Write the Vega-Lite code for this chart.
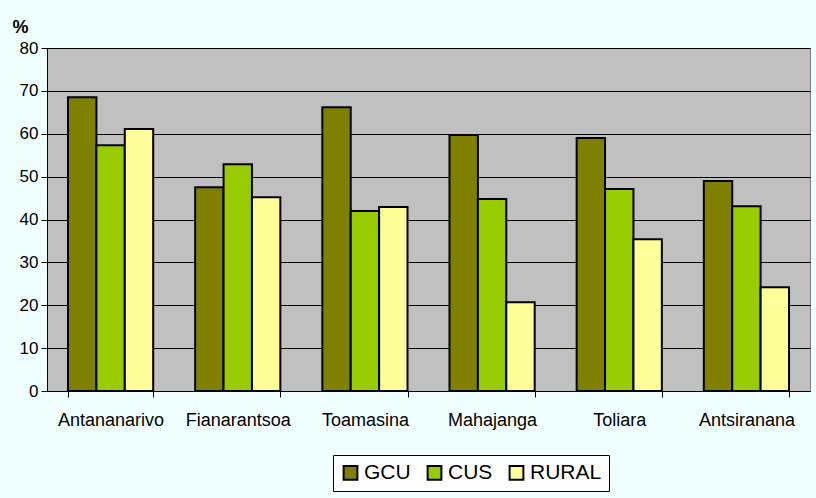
{
  "$schema": "https://vega.github.io/schema/vega-lite/v6.json",
  "width": 763,
  "height": 343,
  "autosize": {"type": "none"},
  "padding": {"left": 47, "top": 48, "right": 6, "bottom": 107},
  "background": "#f0ffff",
  "config": {
    "font": "Liberation Sans",
    "view": {"fill": "#C0C0C0", "stroke": "#808080", "strokeWidth": 1}
  },
  "data": {
    "values": [
      {"region": "Antananarivo", "group": "GCU", "value": 68.5},
      {"region": "Antananarivo", "group": "CUS", "value": 57.3},
      {"region": "Antananarivo", "group": "RURAL", "value": 61.1},
      {"region": "Fianarantsoa", "group": "GCU", "value": 47.5},
      {"region": "Fianarantsoa", "group": "CUS", "value": 52.9},
      {"region": "Fianarantsoa", "group": "RURAL", "value": 45.2},
      {"region": "Toamasina", "group": "GCU", "value": 66.2},
      {"region": "Toamasina", "group": "CUS", "value": 42.0},
      {"region": "Toamasina", "group": "RURAL", "value": 42.9},
      {"region": "Mahajanga", "group": "GCU", "value": 59.7},
      {"region": "Mahajanga", "group": "CUS", "value": 44.8},
      {"region": "Mahajanga", "group": "RURAL", "value": 20.7},
      {"region": "Toliara", "group": "GCU", "value": 59.0},
      {"region": "Toliara", "group": "CUS", "value": 47.1},
      {"region": "Toliara", "group": "RURAL", "value": 35.4},
      {"region": "Antsiranana", "group": "GCU", "value": 49.0},
      {"region": "Antsiranana", "group": "CUS", "value": 43.1},
      {"region": "Antsiranana", "group": "RURAL", "value": 24.2}
    ]
  },
  "mark": {"type": "bar", "stroke": "black", "strokeWidth": 2, "strokeJoin": "miter"},
  "encoding": {
    "x": {
      "field": "region",
      "type": "nominal",
      "sort": ["Antananarivo", "Fianarantsoa", "Toamasina", "Mahajanga", "Toliara", "Antsiranana"],
      "scale": {"paddingInner": 0.33, "paddingOuter": 0.165},
      "axis": {
        "title": null,
        "labelAngle": 0,
        "labelFontSize": 18,
        "labelColor": "black",
        "labelPadding": 14,
        "tickBand": "extent",
        "tickColor": "black",
        "tickSize": 6,
        "domainColor": "black",
        "domainWidth": 1,
        "grid": false
      }
    },
    "xOffset": {
      "field": "group",
      "type": "nominal",
      "sort": ["GCU", "CUS", "RURAL"],
      "scale": {"paddingInner": 0, "paddingOuter": 0}
    },
    "y": {
      "field": "value",
      "type": "quantitative",
      "scale": {"domain": [0, 80]},
      "axis": {
        "title": "%",
        "titleAngle": 0,
        "titleAlign": "left",
        "titleBaseline": "alphabetic",
        "titleX": -35,
        "titleY": -16,
        "titleFontSize": 18,
        "titleFontWeight": "bold",
        "titleColor": "black",
        "values": [0, 10, 20, 30, 40, 50, 60, 70, 80],
        "labelFontSize": 17,
        "labelColor": "black",
        "labelPadding": 3,
        "tickColor": "black",
        "tickSize": 6,
        "domainColor": "black",
        "grid": true,
        "gridColor": "black",
        "gridWidth": 1
      }
    },
    "color": {
      "field": "group",
      "type": "nominal",
      "sort": ["GCU", "CUS", "RURAL"],
      "scale": {"domain": ["GCU", "CUS", "RURAL"], "range": ["#808000", "#99CC00", "#FFFF99"]},
      "legend": {
        "title": null,
        "orient": "none",
        "legendX": 286,
        "legendY": 407,
        "direction": "horizontal",
        "fillColor": "white",
        "strokeColor": "black",
        "padding": 7,
        "symbolType": "square",
        "symbolSize": 190,
        "symbolStrokeColor": "black",
        "symbolStrokeWidth": 2,
        "symbolOpacity": 1,
        "labelFontSize": 21,
        "labelColor": "black",
        "labelOffset": 3,
        "columnPadding": 12
      }
    }
  }
}
